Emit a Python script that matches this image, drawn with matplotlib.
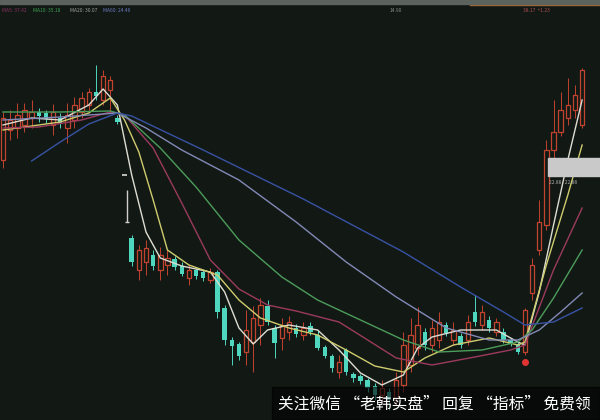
import numpy as np
import matplotlib
matplotlib.use("Agg")
import matplotlib.pyplot as plt
from matplotlib.patches import Rectangle

plt.rcParams['font.family'] = ['Noto Sans CJK SC', 'DejaVu Sans']

# daily OHLC
opens = [29.0, 32.0, 32.2, 32.5, 33.2, 33.8, 33.7, 32.5, 33.2, 32.2,
         33.0, 33.8, 34.5, 35.8, 35.0, 36.0, 33.2, 27.5, 21.2, 18.0,
         18.8, 19.5, 18.0, 18.5, 19.1, 18.4, 17.2, 18.0, 17.8, 17.0,
         17.8, 14.2, 11.0, 10.6, 9.8, 10.8, 12.5, 14.4, 12.2, 11.2,
         11.8, 12.2, 11.5, 12.4, 11.5, 10.3, 9.4, 7.8, 10.0, 7.6,
         7.4, 7.0, 6.4, 5.5, 5.8, 5.2, 6.5, 8.5, 10.2, 11.8,
         10.5, 11.0, 12.5, 11.0, 11.4, 11.0, 13.8, 12.5, 13.0, 11.8,
         11.8, 11.0, 10.6, 9.8, 15.7, 20.0, 22.5, 30.0, 31.8, 33.2,
         34.0, 32.5]
closes = [33.2, 33.0, 33.5, 34.0, 33.8, 33.4, 33.1, 33.8, 32.6, 33.5,
          34.5, 35.2, 35.8, 35.4, 37.4, 37.0, 32.8, 27.5, 18.8, 20.0,
          20.2, 18.4, 19.5, 19.2, 18.3, 17.6, 18.0, 17.4, 17.2, 17.8,
          13.8, 11.0, 10.4, 9.4, 12.0, 13.2, 14.5, 12.8, 10.7, 12.5,
          12.8, 11.6, 12.2, 11.8, 10.2, 9.4, 8.2, 8.8, 7.8, 7.2,
          6.9, 6.2, 5.5, 6.2, 5.0, 7.0, 10.5, 11.5, 12.5, 10.5,
          12.2, 12.8, 11.7, 12.0, 10.5, 12.8, 12.8, 13.8, 12.2, 12.8,
          11.0, 10.6, 9.8, 14.0, 18.5, 22.8, 30.0, 31.8, 34.0, 34.5,
          35.5, 38.0]
highs = [33.8, 34.0, 34.7, 34.7, 35.0, 34.2, 34.0, 34.6, 33.7, 34.7,
         35.3, 35.8, 36.2, 38.5, 38.0, 37.4, 33.5, 27.5, 21.5, 20.5,
         21.0, 20.0, 20.3, 20.0, 19.4, 18.8, 18.5, 18.2, 18.0, 18.2,
         18.0, 14.5, 11.3, 10.8, 14.0, 14.4, 15.2, 15.0, 12.5, 13.2,
         13.4, 12.6, 12.8, 12.8, 12.0, 10.5, 9.6, 9.5, 10.2, 7.8,
         7.6, 7.2, 6.7, 7.0, 6.2, 7.8, 11.8, 13.2, 14.3, 12.2,
         13.0, 13.8, 12.8, 12.8, 11.7, 13.5, 15.5, 14.5, 13.4, 13.2,
         12.2, 11.2, 10.8, 14.2, 19.2, 25.0, 31.0, 35.0, 35.8, 37.2,
         36.5, 38.2]
lows = [28.2, 31.0, 31.2, 31.8, 32.2, 32.8, 32.7, 31.5, 32.2, 30.7,
        32.2, 33.2, 34.0, 35.0, 34.5, 33.8, 32.6, 27.5, 18.4, 17.0,
        17.5, 18.0, 17.0, 17.5, 18.0, 17.4, 16.5, 17.1, 16.9, 16.7,
        13.2, 10.5, 8.5, 9.0, 8.5, 7.8, 10.5, 12.5, 9.2, 10.0,
        11.0, 11.3, 11.0, 11.5, 10.0, 9.2, 7.8, 7.2, 7.5, 6.8,
        6.6, 5.8, 5.0, 4.8, 4.0, 4.5, 5.8, 7.8, 9.5, 10.0,
        9.8, 10.2, 11.4, 10.5, 10.2, 10.5, 12.4, 12.0, 11.8, 11.4,
        10.7, 10.4, 9.6, 9.5, 15.0, 19.5, 22.0, 29.0, 31.4, 32.5,
        33.2, 32.2]

# moving average lines (day index, value)
ma5_days = [0, 4, 8, 12, 14, 16, 18, 20, 22, 25, 29, 31, 33, 35, 37, 40, 44,
            47, 50, 53, 56, 58, 60, 64, 69, 72, 73, 75, 77, 79, 81]
ma5 = [32.5, 33.2, 33.0, 34.5, 36.1, 34.5, 27.5, 21.8, 19.2, 18.4, 17.8, 15.8,
       12.2, 10.6, 12.0, 12.5, 12.0, 10.0, 7.7, 6.5, 7.5, 10.2, 11.3, 12.0,
       12.0, 10.8, 10.5, 15.8, 22.5, 29.0, 35.0]
ma10_days = [0, 4, 8, 12, 15, 17, 19, 21, 23, 26, 30, 33, 36, 40, 44, 48, 52,
             56, 59, 63, 68, 72, 73, 76, 79, 81]
ma10 = [32.0, 32.4, 32.8, 33.7, 35.2, 33.0, 29.8, 25.0, 20.0, 18.5, 17.5, 15.0,
        13.2, 12.2, 11.5, 10.0, 8.4, 7.8, 9.2, 10.5, 11.2, 10.5, 10.8, 18.5,
        25.5, 30.5]
ma20_days = [0, 5, 11, 15, 17, 21, 25, 29, 33, 37, 41, 47, 51, 55, 60, 66, 71,
             73, 77, 81]
ma20 = [32.2, 32.3, 33.0, 33.8, 33.5, 30.2, 24.7, 19.0, 16.1, 14.5, 13.9, 12.8,
        11.0, 9.2, 8.5, 9.3, 10.0, 10.5, 18.0, 24.2]
ma30_days = [0, 8, 15, 17, 22, 27, 33, 39, 44, 50, 56, 61, 67, 72, 74, 77, 81]
ma30 = [33.8, 33.8, 33.9, 33.5, 30.2, 26.3, 21.0, 17.3, 15.0, 13.0, 11.0, 9.8,
        10.0, 10.8, 12.0, 15.2, 20.0]
ma60_days = [0, 8, 16, 20, 25, 33, 41, 48, 55, 62, 68, 72, 75, 78, 81]
ma60 = [33.0, 33.3, 33.7, 32.2, 30.0, 27.0, 22.8, 18.8, 15.3, 12.2, 11.0, 11.0,
        12.0, 13.8, 15.7]
ma120_days = [4, 8, 12, 16, 18, 28, 42, 56, 64, 70, 73, 77, 81]
ma120 = [28.9, 30.8, 32.6, 33.7, 33.4, 30.0, 25.1, 19.8, 16.3, 13.8, 12.5,
         12.8, 14.2]

# small marks drawn by the software
gap_day, gap_top, gap_bottom = 17.3, 26.0, 22.8
signal_day, signal_price = 73, 8.8

bg = '#121915'
up_c = '#c2432e'
down_c = '#4fd6be'

fig = plt.figure(figsize=(6, 4.2), dpi=100)
fig.patch.set_facecolor(bg)
ax = fig.add_axes([0, 0, 1, 1])
ax.set_facecolor(bg)
ax.set_xlim(-0.42, 83.5)
ax.set_ylim(3, 45)
ax.axis('off')

o = np.array(opens)
c = np.array(closes)
h = np.array(highs)
l = np.array(lows)
days = np.arange(len(o))
up = c > o
down = c < o
flat = c == o

# wicks
ax.vlines(days[up], l[up], h[up], color=up_c, lw=0.7, zorder=2)
ax.vlines(days[down], l[down], h[down], color=down_c, lw=0.7, zorder=2)
# bodies: hollow red for rising days, solid cyan for falling days
ax.bar(days[up], c[up] - o[up], bottom=o[up], width=0.62,
       facecolor=bg, edgecolor=up_c, lw=0.9, zorder=3)
ax.bar(days[down], o[down] - c[down], bottom=c[down], width=0.62,
       color=down_c, lw=0, zorder=3)
ax.hlines(c[flat], days[flat] - 0.4, days[flat] + 0.4, color='#d8d8d8', lw=1.2, zorder=3)

ax.vlines(gap_day, gap_bottom, gap_top, color='#cfcfcf', lw=1.0, zorder=3)
ax.hlines(gap_bottom, gap_day - 0.3, gap_day + 0.3, color='#cfcfcf', lw=1.0, zorder=3)

lines = [(ma5_days, ma5, '#deddd2'), (ma10_days, ma10, '#cfcc6e'),
         (ma20_days, ma20, '#9c3a5e'), (ma30_days, ma30, '#4c9c5a'),
         (ma60_days, ma60, '#8389b6'), (ma120_days, ma120, '#3852a4')]
for d, v, col in lines:
    ax.plot(d, v, color=col, lw=1.0, zorder=4, solid_joinstyle='round')

ax.plot(signal_day, signal_price, 'o', color='#e03434', ms=4, zorder=5)

# software header strip and indicator legend
fig.patches.append(Rectangle((0, 1 - 4 / 420), 1, 4 / 420, transform=fig.transFigure,
                             color='#5c625e', zorder=10))
fig.add_artist(plt.Line2D([470 / 600, 1], [1 - 5 / 420] * 2, color='#a86a32', lw=1.0))
legend = [('MA5: 37.42', '#8a3060', 2), ('MA10: 35.18', '#3aa050', 33),
          ('MA20: 30.07', '#a0a0a0', 70), ('MA60: 24.46', '#6a78c0', 103)]
for txt, col, x in legend:
    fig.text(x / 600, 1 - 11 / 420, txt, color=col, fontsize=3.5, va='center')
fig.text(390 / 600, 1 - 11 / 420, '14.90', color='#8a8a8a', fontsize=3.5, va='center')
fig.text(523 / 600, 1 - 11 / 420, '38.17  +1.23', color='#b05050', fontsize=3.5, va='center')

# price readout box on the right
ax.add_patch(Rectangle((548 / 600, 1 - 176 / 420), 52 / 600, 18 / 420,
                       transform=ax.transAxes, color='#c9c9c9', zorder=6))
ax.text(549 / 600, 1 - 182 / 420, '22.88   22.88', transform=ax.transAxes,
        color='#b0b0b0', fontsize=3.5, va='center', zorder=6)

# watermark bar
fig.patches.append(Rectangle((272 / 600, 0), 328 / 600, 33 / 420, transform=fig.transFigure,
                             color='black', alpha=0.6, zorder=10))
fig.text(278 / 600, 16 / 420, '关注微信 “老韩实盘” 回复 “指标” 免费领', color='white',
         fontsize=11.3, va='center', zorder=11)

fig.savefig('out.png', dpi=100, facecolor=bg)
